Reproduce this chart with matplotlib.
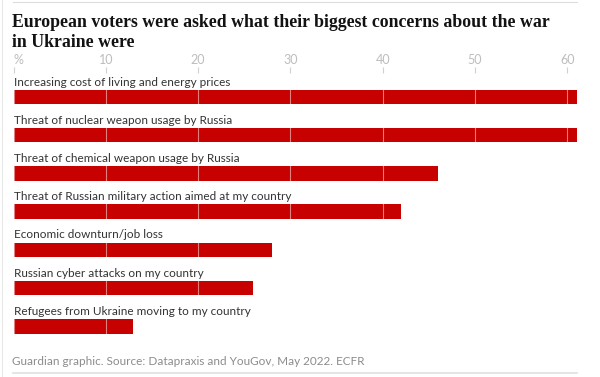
import numpy as np
import matplotlib
matplotlib.use("Agg")
import matplotlib.pyplot as plt
from matplotlib.lines import Line2D

# data (% of voters)
concerns = [
    "Increasing cost of living and energy prices",
    "Threat of nuclear weapon usage by Russia",
    "Threat of chemical weapon usage by Russia",
    "Threat of Russian military action aimed at my country",
    "Economic downturn/job loss",
    "Russian cyber attacks on my country",
    "Refugees from Ukraine moving to my country",
]
shares = [61, 61, 46, 42, 28, 26, 13]
tick_values = [0, 10, 20, 30, 40, 50, 60]
tick_labels = ["%", "10", "20", "30", "40", "50", "60"]

title_lines = ["European voters were asked what their biggest concerns about the war",
               "in Ukraine were"]
source = "Guardian graphic. Source: Datapraxis and YouGov, May 2022. ECFR"

red = "#c70000"
sans = ["Lato", "DejaVu Sans"]

W, H = 600, 377
fig = plt.figure(figsize=(W / 100, H / 100), dpi=100)
fig.patch.set_facecolor("white")

# axes placed in pixel terms: value 0 at x=13.5, 61 at x=576.5
top_px, bot_px = 73, 345
ax = fig.add_axes([13.5 / W, 1 - bot_px / H, 563 / W, (bot_px - top_px) / H])

ypos = np.arange(len(concerns))
ax.barh(ypos, shares, height=0.38, color=red, zorder=1)
ax.set_xlim(0, 61)
ax.set_ylim(6.49, -0.628)

for i, label in enumerate(concerns):
    ax.annotate(label, (0, i - 0.19), xytext=(0, 3), textcoords="offset points",
                ha="left", va="baseline", fontsize=8.5, color="#333333",
                family=sans)

# light grid lines only show over the red bars
ax.set_axisbelow(False)
ax.grid(axis="x", color="white", linewidth=0.8, alpha=0.5, zorder=2)
ax.grid(axis="y", visible=False)

ax.xaxis.tick_top()
ax.set_xticks(tick_values)
ax.set_xticklabels(tick_labels, family=sans, fontsize=9, color="#bdbdbd")
ax.get_xticklabels()[0].set_ha("left")
ax.tick_params(axis="x", length=4, width=0.8, color="#d0d0d0", pad=1)
ax.set_yticks([])
for s in ax.spines.values():
    s.set_visible(False)
ax.set_facecolor("none")

for k, line in enumerate(title_lines):
    fig.text(12 / W, 1 - (26.7 + 20 * k) / H, line, ha="left", va="baseline",
             family=["Liberation Serif", "DejaVu Serif"], fontweight="bold",
             fontsize=12.8, color="#121212")

fig.text(12 / W, 1 - 365 / H, source, ha="left", va="baseline",
         family=sans, fontsize=8.5, color="#8c8c8c")

# frame lines
fig.add_artist(Line2D([13 / W, 577 / W], [1 - 2 / H, 1 - 2 / H],
                      color="#dcdcdc", linewidth=0.8))
fig.add_artist(Line2D([13 / W, 577 / W], [1 - 372.5 / H, 1 - 372.5 / H],
                      color="#e0e0e0", linewidth=1.2))
fig.add_artist(Line2D([2 / W, 2 / W], [0, 1], color="#e8e8e8", linewidth=0.8))

fig.savefig("out.png", dpi=100)
